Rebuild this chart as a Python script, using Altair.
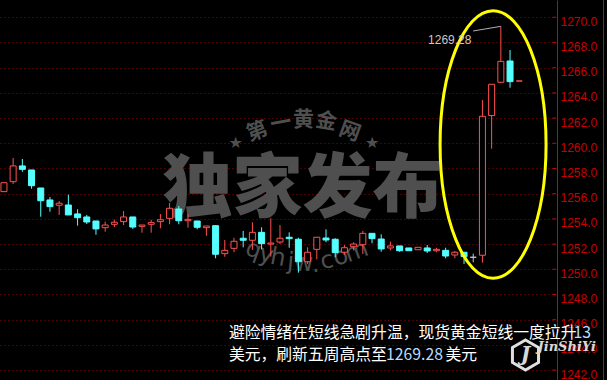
import altair as alt
import pandas as pd

# ---------------- data ----------------
idx = list(range(-1, 56))
opens = [1256.16, 1256.95, 1258.20, 1257.88, 1256.45, 1255.50, 1255.08, 1255.10, 1254.39, 1254.15,
         1253.83, 1253.30, 1253.57, 1253.78, 1254.15, 1253.41, 1253.57, 1253.78, 1254.04, 1254.78,
         1253.85, 1253.83, 1253.30, 1253.46, 1251.24, 1251.66, 1252.46, 1252.30, 1252.93, 1252.00,
         1252.16, 1252.54, 1252.38, 1250.60, 1251.58, 1252.48, 1252.38, 1251.35, 1251.79, 1251.95,
         1252.85, 1252.40, 1251.69, 1251.85, 1251.69, 1251.55, 1251.69, 1251.47, 1251.50, 1251.13,
         1251.35, 1250.95, 1251.11, 1262.20, 1264.84, 1266.53, 1264.94]
highs = [1256.87, 1258.83, 1258.75, 1257.88, 1256.45, 1255.73, 1255.42, 1255.92, 1254.76, 1254.31,
         1253.83, 1253.78, 1253.93, 1254.62, 1254.15, 1253.51, 1253.93, 1254.39, 1255.26, 1255.02,
         1254.39, 1253.83, 1253.43, 1253.46, 1252.32, 1252.50, 1253.04, 1253.73, 1253.33, 1254.04,
         1253.51, 1252.93, 1252.50, 1251.74, 1252.54, 1253.17, 1252.46, 1251.92, 1252.14, 1253.04,
         1252.85, 1252.77, 1252.19, 1251.85, 1251.69, 1251.74, 1251.92, 1251.71, 1251.71, 1251.45,
         1251.35, 1251.24, 1263.43, 1264.68, 1269.28, 1267.40, 1264.94]
lows = [1256.16, 1256.77, 1257.74, 1256.39, 1254.17, 1254.57, 1254.31, 1254.31, 1253.46, 1253.59,
        1252.74, 1252.98, 1253.35, 1253.51, 1253.20, 1252.90, 1252.90, 1253.25, 1253.57, 1253.57,
        1253.30, 1253.17, 1252.66, 1250.87, 1250.99, 1251.35, 1251.74, 1251.53, 1251.58, 1251.00,
        1252.00, 1251.71, 1249.73, 1250.42, 1250.79, 1252.14, 1250.95, 1251.16, 1251.50, 1251.21,
        1252.06, 1251.39, 1251.50, 1251.39, 1251.47, 1251.55, 1251.29, 1251.35, 1250.87, 1250.87,
        1250.42, 1250.55, 1250.52, 1259.57, 1264.84, 1264.41, 1264.94]
closes = [1256.87, 1258.20, 1257.93, 1256.63, 1255.44, 1254.97, 1255.24, 1254.31, 1254.09, 1253.75,
          1253.20, 1253.51, 1253.73, 1254.15, 1253.35, 1253.51, 1253.70, 1253.93, 1254.84, 1253.85,
          1253.96, 1253.33, 1253.43, 1251.19, 1251.50, 1252.22, 1252.30, 1252.93, 1252.03, 1252.08,
          1252.46, 1252.43, 1250.60, 1251.35, 1252.54, 1252.32, 1251.32, 1251.71, 1252.00, 1252.85,
          1252.43, 1251.61, 1251.85, 1251.47, 1251.47, 1251.74, 1251.45, 1251.58, 1251.05, 1251.35,
          1251.00, 1250.95, 1262.14, 1264.68, 1266.50, 1264.89, 1264.94]
live_bar = 55                      # current (unfinished) bar, drawn in rising colour
tick_values = list(range(1242, 1271, 2))
peak_value = 1269.28
peak_bar = 53
caption_1 = "避险情绪在短线急剧升温，现货黄金短线一度拉升"
caption_1_num = "13"
caption_2 = "美元，刷新五周高点至"
caption_2_num = "1269.28"
caption_2_tail = "美元"
wm_big = "独家发布"
wm_top = list("第一黄金网")
wm_bottom = list("qyhjw.com")

# ---------------- layout ----------------
W, H = 557, 380
X_DOM = [-0.886, 58.56]
Y_DOM = [1241.21, 1271.37]
RED, CYAN, GRAY = "#ff5050", "#54ffff", "#c8c8c8"
AXIS_RED = "#d40000"
WM = "#4f4f4f"


def px2x(px):
    return X_DOM[0] + px / W * (X_DOM[1] - X_DOM[0])


def py2y(py):
    return Y_DOM[1] - py / H * (Y_DOM[1] - Y_DOM[0])


kinds = []
for i, o, c in zip(idx, opens, closes):
    if i == live_bar or c > o:
        kinds.append("up")
    elif c < o:
        kinds.append("down")
    else:
        kinds.append("flat")

df = pd.DataFrame({"i": idx, "open": opens, "high": highs, "low": lows,
                   "close": closes, "kind": kinds})

xs = alt.Scale(domain=X_DOM, nice=False, zero=False)
ys = alt.Scale(domain=Y_DOM, nice=False, zero=False)
kind_scale = alt.Scale(domain=["up", "down", "flat"], range=[RED, CYAN, GRAY])

yaxis = alt.Axis(orient="right", values=tick_values, format=".1f", title=None,
                 labelColor="#c80000", labelFont="Liberation Sans", labelFontSize=12,
                 labelPadding=3, labelOffset=4, ticks=False,
                 domainColor=AXIS_RED, domainWidth=1,
                 grid=True, gridColor="#9a0000", gridDash=[1, 3], gridWidth=1)


def X(f):
    return alt.X(f, type="quantitative", scale=xs, axis=None)


def Y(f):
    return alt.Y(f, type="quantitative", scale=ys, axis=yaxis)


# axis + small tick dots
ticks_df = pd.DataFrame({"v": tick_values})
tick_layer = alt.Chart(ticks_df).mark_rule(color=AXIS_RED, strokeWidth=1).encode(
    x=alt.value(552.5), x2=alt.value(556), y=Y("v"))

# second red divider on the far right
divider = alt.Chart(ticks_df.head(1)).mark_rule(color=AXIS_RED, strokeWidth=1).encode(
    x=alt.value(603.5), y=alt.value(0), y2=alt.value(H))

# ---------------- watermark ----------------
big_df = pd.DataFrame({"x": [px2x(303)], "y": [py2y(212)], "t": [wm_big]})
wm_big_layer = alt.Chart(big_df).mark_text(
    font="Noto Sans CJK SC", fontWeight=900, fontSize=70, color=WM,
    align="center", baseline="alphabetic").encode(x=X("x"), y=Y("y"), text="t")

top_px = [257, 281, 304, 327, 351]
top_py = [132, 124, 120, 122, 132]
top_ang = [340, 350, 0, 10, 20]
top_df = pd.DataFrame({"x": [px2x(p) for p in top_px], "y": [py2y(p) for p in top_py],
                       "t": wm_top, "a": top_ang})
wm_top_layer = alt.Chart(top_df).mark_text(
    font="Noto Sans CJK SC", fontWeight="bold", fontSize=21, color=WM,
    align="center", baseline="middle").encode(
    x=X("x"), y=Y("y"), text="t", angle=alt.Angle("a:Q", scale=None))

star_df = pd.DataFrame({"x": [px2x(235), px2x(374)], "y": [py2y(143), py2y(143)], "t": ["★", "★"]})
wm_star_layer = alt.Chart(star_df).mark_text(
    font="DejaVu Sans", fontSize=16, color=WM, align="center", baseline="middle").encode(
    x=X("x"), y=Y("y"), text="t")

bot_px = [253, 266, 278, 291, 304, 316, 328, 342, 358]
bot_py = [250, 255, 258, 262, 264, 265, 261, 257, 252]
bot_ang = [20, 15, 10, 5, 0, 355, 350, 345, 340]
bot_df = pd.DataFrame({"x": [px2x(p) for p in bot_px], "y": [py2y(p) for p in bot_py],
                       "t": wm_bottom, "a": bot_ang})
wm_bot_layer = alt.Chart(bot_df).mark_text(
    font="DejaVu Sans", fontSize=24, color=WM, align="center", baseline="middle").encode(
    x=X("x"), y=Y("y"), text="t", angle=alt.Angle("a:Q", scale=None))

# ---------------- candles ----------------
wicks = alt.Chart(df).mark_rule(strokeWidth=1).encode(
    x=X("i"), y=Y("low"), y2="high",
    color=alt.Color("kind:N", scale=kind_scale, legend=None))

hollow = alt.Chart(df).transform_filter("datum.kind != 'down'").mark_bar(
    size=6, fill="black", strokeWidth=1).encode(
    x=X("i"), y=Y("open"), y2="close",
    stroke=alt.Stroke("kind:N", scale=kind_scale, legend=None))

solid = alt.Chart(df).transform_filter("datum.kind == 'down'").mark_bar(
    size=6, color=CYAN, stroke=CYAN, strokeWidth=1).encode(
    x=X("i"), y=Y("open"), y2="close")

# ---------------- annotations ----------------
ell_df = pd.DataFrame({"x": [px2x(497)], "y": [py2y(144.5)]})
ellipse = alt.Chart(ell_df).mark_point(
    shape="M -0.396 0 A 0.396 1 0 1 0 0.396 0 A 0.396 1 0 1 0 -0.396 0",
    filled=False, stroke="#ffff00", strokeWidth=3, size=267.6 ** 2, opacity=1).encode(
    x=X("x"), y=Y("y"))

lead_df = pd.DataFrame({"x": [peak_bar, px2x(476.7)], "y": [peak_value, py2y(31)]})
leader = alt.Chart(lead_df).mark_line(color="#b0b0b0", strokeWidth=1).encode(
    x=X("x"), y=Y("y"))

peak_df = pd.DataFrame({"x": [px2x(475)], "y": [py2y(44.3)], "t": [f"{peak_value:.2f}"]})
peak_text = alt.Chart(peak_df).mark_text(
    font="Liberation Sans", fontSize=12, color=GRAY, align="right", baseline="alphabetic").encode(
    x=X("x"), y=Y("y"), text="t")

# ---------------- caption ----------------
cap_df = pd.DataFrame({
    "x": [px2x(228), px2x(579), px2x(228), px2x(388), px2x(448.5)],
    "y": [py2y(337.5), py2y(337.5), py2y(360), py2y(360), py2y(360)],
    "t": [caption_1, caption_1_num, caption_2, caption_2_num, caption_2_tail],
    "c": ["#ffffff", "#b8dcff", "#ffffff", "#b8dcff", "#ffffff"],
})
caption = alt.Chart(cap_df).mark_text(
    font="Noto Sans CJK SC", fontSize=15.8, align="left", baseline="alphabetic").encode(
    x=X("x"), y=Y("y"), text="t", color=alt.Color("c:N", scale=None))

# ---------------- logo (bottom right) ----------------
hex_df = pd.DataFrame({"x": [px2x(530)], "y": [py2y(355)]})
logo_hex = alt.Chart(hex_df).mark_point(
    shape="M 0 -1 L 0.87 -0.5 L 0.87 0.5 L 0 1 L -0.87 0.5 L -0.87 -0.5 Z",
    filled=False, stroke="#e0e0e0", strokeWidth=3, size=900, opacity=1).encode(
    x=X("x"), y=Y("y"))
logo_df = pd.DataFrame({"x": [px2x(530), px2x(572)], "y": [py2y(361), py2y(351)],
                        "t": ["J", "JinShiYi"], "s": [20, 13]})
logo_text = alt.Chart(logo_df).mark_text(
    font="DejaVu Serif", fontStyle="italic", fontWeight="bold", color="#d8d8d8",
    align="center", baseline="alphabetic").encode(
    x=X("x"), y=Y("y"), text="t", size=alt.Size("s:Q", scale=None))

chart = alt.layer(
    tick_layer, divider, wm_big_layer, wm_top_layer, wm_star_layer, wm_bot_layer,
    wicks, hollow, solid, ellipse, leader, peak_text, caption, logo_hex, logo_text,
).properties(
    width=W, height=H, background="black",
    padding={"left": 0, "top": 0, "right": 50, "bottom": 0},
    autosize=alt.AutoSizeParams(type="none"),
).configure_view(stroke=None)

chart.save("out.html", embed_options={"renderer": "svg", "actions": False})
